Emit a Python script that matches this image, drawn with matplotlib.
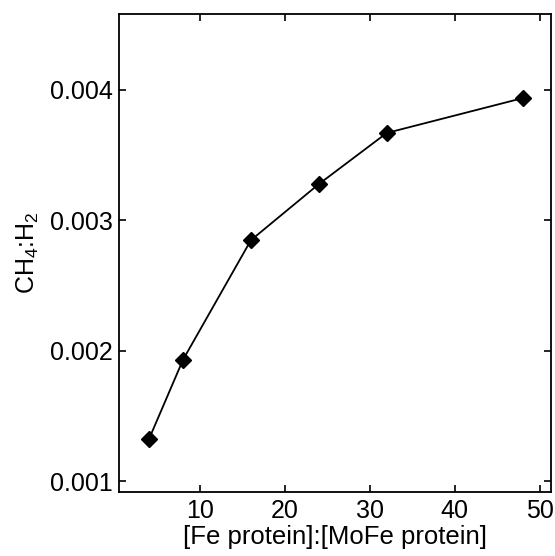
import numpy as np
import matplotlib
matplotlib.use("Agg")
import matplotlib.pyplot as plt

plt.rcParams['font.family'] = ['Liberation Sans', 'DejaVu Sans']
plt.rcParams['mathtext.fontset'] = 'custom'
plt.rcParams['mathtext.rm'] = 'Liberation Sans'

# data
ratio = [4, 8, 16, 24, 32, 48]                                       # [Fe protein]:[MoFe protein]
ch4_h2 = [0.001322, 0.001929, 0.002846, 0.003276, 0.003668, 0.003935]

xticks = [10, 20, 30, 40, 50]
yticks = [0.001, 0.002, 0.003, 0.004]
ytick_labels = ['0.001', '0.002', '0.003', '0.004']

fig = plt.figure(figsize=(5.55, 5.56), dpi=100)
ax = fig.add_axes([0.215, 0.1147, 0.777, 0.8601])

ax.plot(ratio, ch4_h2, color='black', lw=1.3, marker='D', ms=8,
        mfc='black', mec='black')

ax.set_xlim(0.5, 51.3)
ax.set_ylim(0.000914, 0.00458)
ax.set_xticks(xticks)
ax.set_yticks(yticks)
ax.set_yticklabels(ytick_labels)

ax.tick_params(direction='in', length=5, width=1.2, labelsize=18,
               top=True, right=True, pad=5)
for s in ax.spines.values():
    s.set_linewidth(1.3)

ax.set_xlabel('[Fe protein]:[MoFe protein]', fontsize=18.5, labelpad=1)
ax.set_ylabel(r'CH$_\mathregular{4}$:H$_\mathregular{2}$', fontsize=18, labelpad=6)

plt.savefig('out.png', dpi=100)
